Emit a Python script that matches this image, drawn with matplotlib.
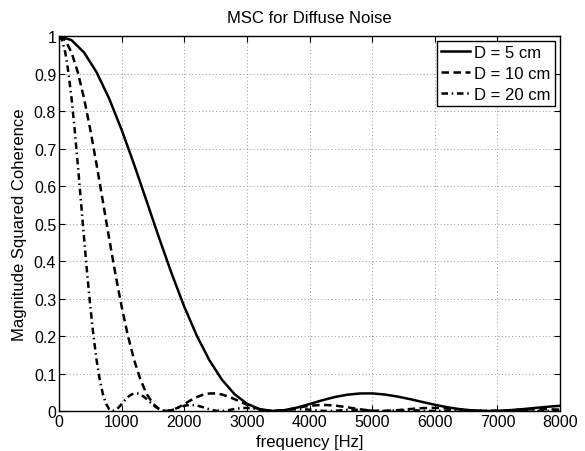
import numpy as np
import matplotlib
matplotlib.use("Agg")
import matplotlib.pyplot as plt

plt.rcParams['font.family'] = ['Liberation Sans', 'DejaVu Sans']

# frequency grids (Hz)
freq_5cm = np.arange(0, 8001, 200)
freq_10cm = np.concatenate([np.arange(0, 4001, 100), np.arange(4200, 8001, 200)])
freq_20cm = np.concatenate([np.arange(0, 2001, 50), np.arange(2100, 8001, 100)])

msc_5cm = [1.0, 0.9889, 0.9561, 0.9033, 0.8334, 0.7498, 0.6569, 0.5590, 0.4605, 0.3657,
           0.2782, 0.2008, 0.1357, 0.0837, 0.0453, 0.0195, 0.0051, 0.0001, 0.0022, 0.0091,
           0.0185, 0.0284, 0.0371, 0.0434, 0.0467, 0.0469, 0.0440, 0.0387, 0.0318, 0.0241,
           0.0166, 0.0100, 0.0049, 0.0015, 0.0001, 0.0004, 0.0022, 0.0049, 0.0081, 0.0113,
           0.0139]

msc_10cm = [1.0, 0.9889, 0.9561, 0.9033, 0.8334, 0.7498, 0.6569, 0.5590, 0.4605, 0.3657,
            0.2782, 0.2008, 0.1357, 0.0837, 0.0453, 0.0195, 0.0051, 0.0001, 0.0022, 0.0091,
            0.0185, 0.0284, 0.0371, 0.0434, 0.0467, 0.0469, 0.0440, 0.0387, 0.0318, 0.0241,
            0.0166, 0.0100, 0.0049, 0.0015, 0.0001, 0.0004, 0.0022, 0.0049, 0.0081, 0.0113,
            0.0139,
            0.0165, 0.0147, 0.0100, 0.0045, 0.0008, 0.0001, 0.0021, 0.0052, 0.0077, 0.0083,
            0.0068, 0.0041, 0.0014, 0.0001, 0.0004, 0.0020, 0.0038, 0.0049, 0.0048, 0.0035]

msc_20cm = [1.0, 0.9889, 0.9561, 0.9033, 0.8334, 0.7498, 0.6569, 0.5590, 0.4605, 0.3657,
            0.2782, 0.2008, 0.1357, 0.0837, 0.0453, 0.0195, 0.0051, 0.0001, 0.0022, 0.0091,
            0.0185, 0.0284, 0.0371, 0.0434, 0.0467, 0.0469, 0.0440, 0.0387, 0.0318, 0.0241,
            0.0166, 0.0100, 0.0049, 0.0015, 0.0001, 0.0004, 0.0022, 0.0049, 0.0081, 0.0113,
            0.0139,
            0.0165, 0.0147, 0.0100, 0.0045, 0.0008, 0.0001, 0.0021, 0.0052, 0.0077, 0.0083,
            0.0068, 0.0041, 0.0014, 0.0001, 0.0004, 0.0020, 0.0038, 0.0049, 0.0048, 0.0035,
            0.0018, 0.0004, 0.0000, 0.0006, 0.0018, 0.0029, 0.0034, 0.0029, 0.0019, 0.0008,
            0.0001, 0.0001, 0.0008, 0.0017, 0.0023, 0.0024, 0.0018, 0.0010, 0.0003, 0.0000,
            0.0002, 0.0009, 0.0015, 0.0018, 0.0017, 0.0011, 0.0005, 0.0001, 0.0000, 0.0004,
            0.0009, 0.0013, 0.0014, 0.0011, 0.0007, 0.0002, 0.0000, 0.0001, 0.0005, 0.0009]

x_ticks = [0, 1000, 2000, 3000, 4000, 5000, 6000, 7000, 8000]
y_ticks = [0, 0.1, 0.2, 0.3, 0.4, 0.5, 0.6, 0.7, 0.8, 0.9, 1]
y_tick_labels = ['0', '0.1', '0.2', '0.3', '0.4', '0.5', '0.6', '0.7', '0.8', '0.9', '1']

fig = plt.figure(figsize=(5.85, 4.52), dpi=100)
ax = fig.add_axes([0.1009, 0.0885, 0.8564, 0.8296])

ax.plot(freq_5cm, msc_5cm, color='k', linestyle='-', linewidth=1.8, label='D = 5 cm')
ax.plot(freq_10cm, msc_10cm, color='k', linestyle=(0, (3, 1.8)), linewidth=1.8, label='D = 10 cm')
ax.plot(freq_20cm, msc_20cm, color='k', linestyle=(0, (2.6, 1.5, 0.6, 1.5)), linewidth=1.8,
        label='D = 20 cm')

ax.set_xlim(0, 8000)
ax.set_ylim(0, 1)
ax.set_xticks(x_ticks)
ax.set_yticks(y_ticks)
ax.set_yticklabels(y_tick_labels)
ax.tick_params(direction='in', top=True, right=True, labelsize=11.5, length=4, width=0.8, pad=2)
ax.grid(True, color='#999999', linestyle=(0, (1, 2.5)), linewidth=0.7)
for s in ax.spines.values():
    s.set_linewidth(1.0)

ax.set_title('MSC for Diffuse Noise', fontsize=12, pad=10)
ax.set_xlabel('frequency [Hz]', fontsize=12, labelpad=4)
ax.set_ylabel('Magnitude Squared Coherence', fontsize=12, labelpad=5)

leg = ax.legend(loc='upper right', fontsize=12, handlelength=1.75, handletextpad=0.25,
                borderpad=0.25, labelspacing=0.35, borderaxespad=0.3, fancybox=False,
                framealpha=1, edgecolor='k')
leg.get_frame().set_linewidth(1.0)

fig.savefig('out.png', dpi=100)
